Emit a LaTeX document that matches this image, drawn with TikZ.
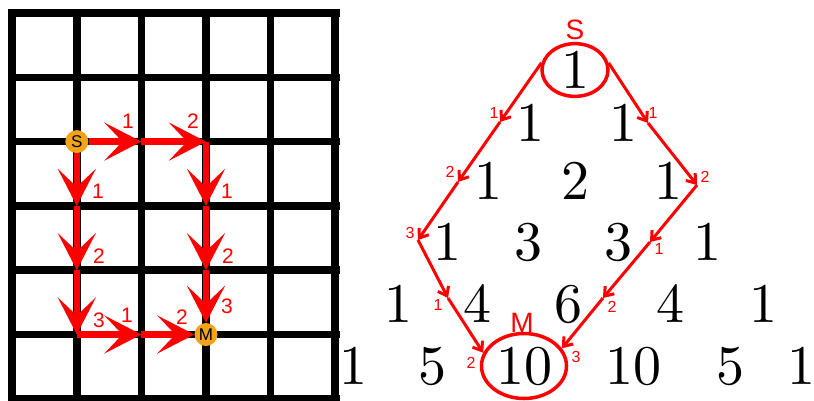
\documentclass[tikz,border=0pt]{standalone}
\usepackage{fontspec}
\newfontfamily\labfont{Liberation Sans}
\newfontfamily\numfont{lmroman10-regular}[Extension=.otf]
\usetikzlibrary{arrows.meta,shapes.geometric}
\definecolor{pathred}{RGB}{255,0,0}
\definecolor{dotorange}{RGB}{242,163,28}
\begin{document}
\begin{tikzpicture}[x=1pt,y=-1pt,
  gridline/.style={line width=7.5pt, black},
  bigarrow/.style={pathred, line width=6.5pt, -{Stealth[length=37pt,width=38pt,inset=18pt]}},
  smallarrow/.style={pathred, line width=3pt, -{Straight Barb[length=8pt,width=12pt]}},
  biglab/.style={text=pathred, font=\labfont\fontsize{21}{21}\selectfont, inner sep=0pt},
  smalllab/.style={text=pathred, font=\labfont\fontsize{16}{16}\selectfont, inner sep=0pt},
  dot/.style={circle, fill=dotorange, minimum size=23pt, inner sep=0pt, font=\labfont\fontsize{17}{17}\selectfont},
  pnum/.style={font=\numfont\fontsize{56}{60}\selectfont, inner sep=0pt},
  ring/.style={ellipse, draw=pathred, line width=3.5pt},
  ringlab/.style={text=pathred, font=\labfont\fontsize{28}{28}\selectfont, inner sep=0pt}]
\useasboundingbox (0,0) rectangle (814,400);
% grid
\foreach \i in {0,...,5} \draw[gridline] ({12.2+64.6*\i},9.3) -- ({12.2+64.6*\i},405);
\foreach \j in {0,...,6} \draw[gridline] (8.5,{13+64.3*\j}) -- (340,{13+64.3*\j});
\foreach \i in {0,...,5}{\foreach \j in {0,...,6}{\coordinate (g\i\j) at ({12.2+64.6*\i},{13+64.3*\j});}}
% start / end
\node[dot] (S) at (g12) {S};
\node[dot] (M) at (g35) {M};
% paths on grid
\draw[bigarrow] (S) -- (g22);
\draw[bigarrow] (g22) -- (g32);
\draw[bigarrow] (g32) -- (g33);
\draw[bigarrow] (g33) -- (g34);
\draw[bigarrow] (g34) -- (M);
\draw[bigarrow] (S) -- (g13);
\draw[bigarrow] (g13) -- (g14);
\draw[bigarrow] (g14) -- (g15);
\draw[bigarrow] (g15) -- (g25);
\draw[bigarrow] (g25) -- (M);
% grid labels
\node[biglab] (t1) at (128,121) {1};
\node[biglab] (t2) at (193,121) {2};
\node[biglab] (v1) at (98,191) {1};
\node[biglab] (v2) at (99,256) {2};
\node[biglab] (v3) at (99,320) {3};
\node[biglab] (w1) at (227,191) {1};
\node[biglab] (w2) at (228,256) {2};
\node[biglab] (w3) at (227,306) {3};
\node[biglab] (h1) at (127,315) {1};
\node[biglab] (h2) at (182,317) {2};
% Pascal triangle
\node[pnum, ring, minimum width=66pt, minimum height=52pt] (p00) at (575,70) {1};
\node[ringlab] (sl) at (575,30) {S};
\node[pnum] (p10) at (530,123) {1};
\node[pnum] (p11) at (623,123) {1};
\node[pnum] (p20) at (488,181) {1};
\node[pnum] (p21) at (575,181) {2};
\node[pnum] (p22) at (668,181) {1};
\node[pnum] (p30) at (447,242) {1};
\node[pnum] (p31) at (528,242) {3};
\node[pnum] (p32) at (618,242) {3};
\node[pnum] (p33) at (707,242) {1};
\node[pnum] (p40) at (398,304) {1};
\node[pnum] (p41) at (477,304) {4};
\node[pnum] (p42) at (568,304) {6};
\node[pnum] (p43) at (670,304) {4};
\node[pnum] (p44) at (763,304) {1};
\node[pnum] (p50) at (353,366) {1};
\node[pnum] (p51) at (432,366) {5};
\node[pnum, ring, minimum width=85pt, minimum height=65pt] (p52) at (524,366) {10};
\node[pnum] (p53) at (633,366) {10};
\node[pnum] (p54) at (730,366) {5};
\node[pnum] (p55) at (801,366) {1};
\node[ringlab] (ml) at (522,323) {M};
% paths on triangle
\coordinate (a1) at (500,122);
\coordinate (a2) at (458,182);
\coordinate (a3) at (418,240);
\coordinate (a4) at (448,298);
\coordinate (b1) at (648,123);
\coordinate (b2) at (697,185);
\coordinate (b3) at (650,242);
\coordinate (b4) at (603,298);
\draw[smallarrow] (p00.168) -- (a1);
\draw[smallarrow] (a1) -- (a2);
\draw[smallarrow] (a2) -- (a3);
\draw[smallarrow] (a3) -- (a4);
\draw[smallarrow] (a4) -- (p52.162);
\draw[smallarrow] (p00.12) -- (b1);
\draw[smallarrow] (b1) -- (b2);
\draw[smallarrow] (b2) -- (b3);
\draw[smallarrow] (b3) -- (b4);
\draw[smallarrow] (b4) -- (p52.25);
% triangle path labels
\node[smalllab] (la1) at (494,113) {1};
\node[smalllab] (la2) at (450,172) {2};
\node[smalllab] (la3) at (410,233) {3};
\node[smalllab] (la4) at (438,305) {1};
\node[smalllab] (la5) at (471,363) {2};
\node[smalllab] (lb1) at (653,113) {1};
\node[smalllab] (lb2) at (705,177) {2};
\node[smalllab] (lb3) at (659,249) {1};
\node[smalllab] (lb4) at (612,307) {2};
\node[smalllab] (lb5) at (576,357) {3};
\end{tikzpicture}
\end{document}
